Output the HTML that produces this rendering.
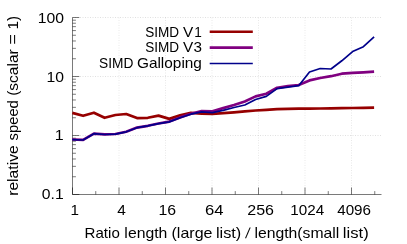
<!DOCTYPE html>
<html><head><meta charset="utf-8"><title>SIMD intersection relative speed</title>
<style>
html,body{margin:0;padding:0;background:#fff;}
body{width:407px;height:244px;overflow:hidden;}
svg{display:block;will-change:transform;font-family:"Liberation Sans",sans-serif;font-size:14.5px;fill:#000;}
</style></head><body>
<svg width="407" height="244" viewBox="0 0 407 244">
<rect width="407" height="244" fill="#fff"/>
<path d="M119.00 17.5 V194.5 M165.50 17.5 V194.5 M212.00 17.5 V194.5 M258.50 17.5 V194.5 M305.00 17.5 V194.5 M351.50 17.5 V194.5" fill="none" stroke="#000" stroke-opacity="0.09" stroke-width="1" stroke-dasharray="1 1.5"/>
<path d="M72.5 17.50 H381.5 M72.5 76.50 H381.5 M72.5 135.50 H381.5" fill="none" stroke="#000" stroke-opacity="0.12" stroke-width="1" stroke-dasharray="1 1.5"/>
<path d="M72.5 17.5 V194.5 H381.5" fill="none" stroke="#000" stroke-opacity="0.52" stroke-width="1"/>
<path d="M72.50 194.5 v-7 M95.75 194.5 v-3.4 M119.00 194.5 v-7 M142.25 194.5 v-3.4 M165.50 194.5 v-7 M188.75 194.5 v-3.4 M212.00 194.5 v-7 M235.25 194.5 v-3.4 M258.50 194.5 v-7 M281.75 194.5 v-3.4 M305.00 194.5 v-7 M328.25 194.5 v-3.4 M351.50 194.5 v-7 M374.75 194.5 v-3.4 M72.5 17.50 h6.8 M72.5 58.74 h3.4 M72.5 48.35 h3.4 M72.5 40.98 h3.4 M72.5 35.26 h3.4 M72.5 30.59 h3.4 M72.5 26.64 h3.4 M72.5 23.22 h3.4 M72.5 20.20 h3.4 M72.5 76.50 h6.8 M72.5 117.74 h3.4 M72.5 107.35 h3.4 M72.5 99.98 h3.4 M72.5 94.26 h3.4 M72.5 89.59 h3.4 M72.5 85.64 h3.4 M72.5 82.22 h3.4 M72.5 79.20 h3.4 M72.5 135.50 h6.8 M72.5 176.74 h3.4 M72.5 166.35 h3.4 M72.5 158.98 h3.4 M72.5 153.26 h3.4 M72.5 148.59 h3.4 M72.5 144.64 h3.4 M72.5 141.22 h3.4 M72.5 138.20 h3.4 M72.5 194.50 h6.8" fill="none" stroke="#000" stroke-opacity="0.52" stroke-width="1"/>
<g fill="none" stroke-linejoin="round" stroke-linecap="butt">
<polyline points="72.3,112.9 83.1,115.8 93.9,112.7 104.6,117.8 115.4,115.0 126.2,114.0 137.0,118.1 147.8,117.8 158.5,115.6 169.3,118.9 180.1,115.3 190.9,112.8 201.7,113.6 212.4,113.8 223.2,113.2 234.0,112.3 244.8,111.4 255.6,110.5 266.3,109.8 277.1,109.2 287.9,108.9 298.7,108.7 309.5,108.6 320.2,108.5 331.0,108.4 341.8,108.2 352.6,108.0 363.4,107.8 374.1,107.6" stroke="#960000" stroke-width="2.7"/>
<polyline points="72.3,139.5 83.1,139.9 93.9,133.6 104.6,134.4 115.4,134.0 126.2,131.7 137.0,127.6 147.8,125.8 158.5,123.5 169.3,121.6 180.1,117.4 190.9,113.8 201.7,111.0 212.4,111.4 223.2,108.1 234.0,105.0 244.8,101.5 255.6,96.4 266.3,93.8 277.1,87.8 287.9,86.2 298.7,85.0 309.5,80.4 320.2,78.0 331.0,76.2 341.8,73.7 352.6,72.9 363.4,72.3 374.1,71.7" stroke="#800080" stroke-width="2.7"/>
<polyline points="72.3,139.6 83.1,140.0 93.9,133.7 104.6,134.5 115.4,134.1 126.2,131.8 137.0,127.7 147.8,125.9 158.5,123.7 169.3,121.9 180.1,117.8 190.9,114.2 201.7,111.8 212.4,112.6 223.2,110.4 234.0,107.5 244.8,105.0 255.6,99.5 266.3,96.4 277.1,88.6 287.9,87.2 298.7,85.7 309.5,72.0 320.2,68.5 331.0,69.0 341.8,60.8 352.6,51.6 363.4,46.7 374.1,36.9" stroke="#00008b" stroke-width="1.7"/>
<path d="M209.7 31.75 H252.8" stroke="#960000" stroke-width="2.7"/>
<path d="M209.7 47.7 H252.8" stroke="#800080" stroke-width="2.7"/>
<path d="M209.7 63.5 H252.8" stroke="#00008b" stroke-width="1.7"/>
</g>
<g>
<text x="37.78" y="22.6" textLength="26.27" lengthAdjust="spacingAndGlyphs">100</text>
<text x="46.55" y="81.6" textLength="17.49" lengthAdjust="spacingAndGlyphs">10</text>
<text x="54.88" y="140.0" textLength="8.92" lengthAdjust="spacingAndGlyphs">1</text>
<text x="41.85" y="199.0" textLength="21.84" lengthAdjust="spacingAndGlyphs">0.1</text>
<text x="70.47" y="214.7" textLength="8.49" lengthAdjust="spacingAndGlyphs">1</text>
<text x="117.2" y="214.7" textLength="8.6" lengthAdjust="spacingAndGlyphs">4</text>
<text x="158.57" y="214.7" textLength="17.63" lengthAdjust="spacingAndGlyphs">16</text>
<text x="204.99" y="214.7" textLength="18.53" lengthAdjust="spacingAndGlyphs">64</text>
<text x="247.3" y="214.7" textLength="26.75" lengthAdjust="spacingAndGlyphs">256</text>
<text x="290.28" y="214.7" textLength="33.86" lengthAdjust="spacingAndGlyphs">1024</text>
<text x="337.21" y="214.7" textLength="33.79" lengthAdjust="spacingAndGlyphs">4096</text>
<text x="145.22" y="36.6" textLength="33.91" lengthAdjust="spacingAndGlyphs">SIMD</text>
<text x="182.95" y="36.6" textLength="10.23" lengthAdjust="spacingAndGlyphs">V</text>
<text x="194.14" y="36.6" textLength="7.58" lengthAdjust="spacingAndGlyphs">1</text>
<text x="145.22" y="52.3" textLength="33.91" lengthAdjust="spacingAndGlyphs">SIMD</text>
<text x="182.95" y="52.3" textLength="10.23" lengthAdjust="spacingAndGlyphs">V</text>
<text x="193.53" y="52.3" textLength="8.48" lengthAdjust="spacingAndGlyphs">3</text>
<text x="99.03" y="68.0" textLength="34.29" lengthAdjust="spacingAndGlyphs">SIMD</text>
<text x="136.94" y="68.0" textLength="64.98" lengthAdjust="spacingAndGlyphs">Galloping</text>
<text x="84.58" y="238.4" textLength="35.21" lengthAdjust="spacingAndGlyphs">Ratio</text>
<text x="124.39" y="238.4" textLength="43.0" lengthAdjust="spacingAndGlyphs">length</text>
<text x="171.52" y="238.4" textLength="40.97" lengthAdjust="spacingAndGlyphs">(large</text>
<text x="215.92" y="238.4" textLength="25.4" lengthAdjust="spacingAndGlyphs">list)</text>
<text transform="translate(246.9 238.4) skewX(-9)" x="-2.0" y="0">/</text>
<text x="254.4" y="238.4" textLength="84.88" lengthAdjust="spacingAndGlyphs">length(small</text>
<text x="342.86" y="238.4" textLength="25.86" lengthAdjust="spacingAndGlyphs">list)</text>
<g transform="translate(18.1 394.85) rotate(-90)">
<text x="199.0" y="0" textLength="50.62" lengthAdjust="spacingAndGlyphs">relative</text>
<text x="254.43" y="0" textLength="40.28" lengthAdjust="spacingAndGlyphs">speed</text>
<text x="299.01" y="0" textLength="46.58" lengthAdjust="spacingAndGlyphs">(scalar</text>
<text x="350.39" y="0" textLength="10.25" lengthAdjust="spacingAndGlyphs">=</text>
<text x="365.41" y="0" textLength="13.58" lengthAdjust="spacingAndGlyphs">1)</text>
</g>
</g>
</svg>
</body></html>
